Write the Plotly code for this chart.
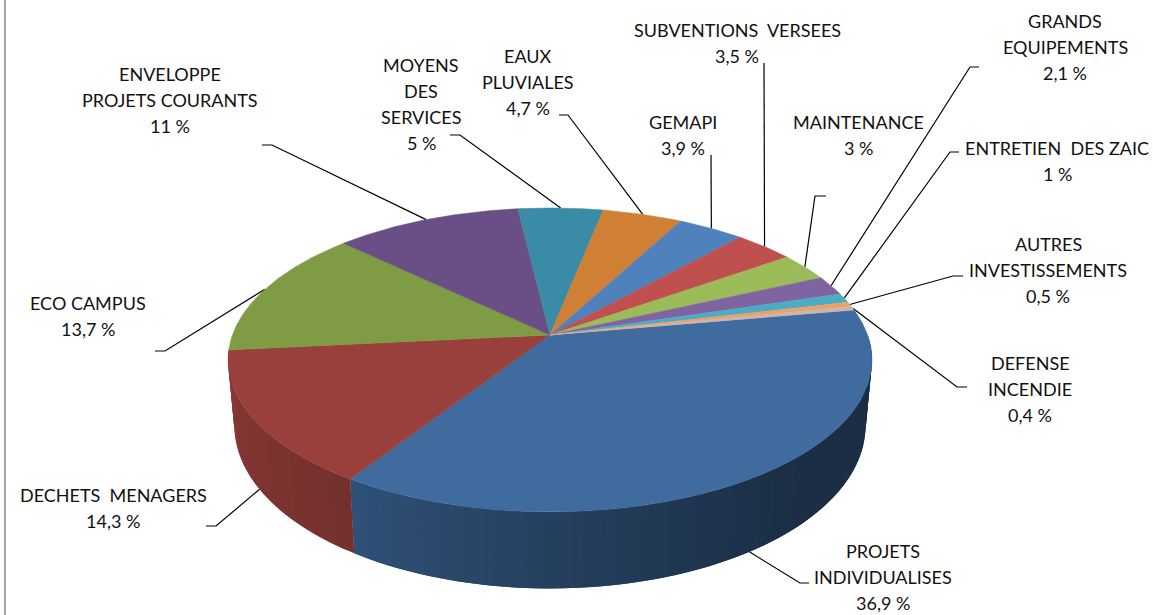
import numpy as np
import plotly.graph_objects as go

# %%
NAMES = [
    "PROJETS<br>INDIVIDUALISES", "DECHETS  MENAGERS", "ECO CAMPUS",
    "ENVELOPPE<br>PROJETS COURANTS", "MOYENS<br>DES<br>SERVICES", "EAUX<br>PLUVIALES",
    "GEMAPI", "SUBVENTIONS  VERSEES", "MAINTENANCE", "GRANDS<br>EQUIPEMENTS",
    "ENTRETIEN  DES ZAIC", "AUTRES<br>INVESTISSEMENTS", "DEFENSE<br>INCENDIE",
]
VALUES = [36.9, 14.3, 13.7, 11, 5, 4.7, 3.9, 3.5, 3, 2.1, 1, 0.5, 0.4]

COLORS = [
    "#3F6B9E", "#9A403C", "#7F9C45", "#694F85", "#3A8BA5", "#D08034", "#4F81BD",
    "#C0504D", "#9BBB59", "#8064A2", "#4BACC6", "#F0A060", "#C9B4B0",
]

# label centre x, y of the first line
LABEL_POS = [
    (883, 551), (113, 495), (88, 303), (170, 74), (421, 65), (528, 56), (683, 122),
    (737, 30), (858, 122), (1065, 21), (1057, 148), (1048, 244), (1030, 363),
]
# label side of each leader line, the pie end comes from the slice angle
LEADERS = [
    [(809, 583), (800, 583)], [(206, 526), (216, 526)], [(155, 351), (165, 351)],
    [(262, 145), (272, 145)], [(450, 135), (460, 135)], [(559, 115), (568, 115)],
    [(711, 155)], [(764, 63)], [(826, 196), (815, 196)], [(979, 67), (970, 67)],
    [(959, 152), (950, 152)], [(963, 276), (953, 276)], [(967, 387), (957, 387)],
]
ON_WALL = [True, True] + [False] * 11

# %%
# perspective of the disc, in page pixels
CX, CY = 550, 335
RX, RY = 317.6, 147.9
K = 0.164
DEPTH = 64
BOTTOM_SCALE = 0.98
START = 10
LINE_STEP = 26


def rim(deg, bottom=False):
    a = np.radians(deg)
    X, Y = np.cos(a), np.sin(a)
    d = 1 + K * Y
    if bottom:
        return CX + RX * BOTTOM_SCALE * X / d, CY + (DEPTH - RY * Y) / d
    return CX + RX * X / d, CY - RY * Y / d


def darker(hex_col, f):
    rgb = [int(hex_col[i:i + 2], 16) for i in (1, 3, 5)]
    return "rgb(%d,%d,%d)" % tuple(int(c * f) for c in rgb)


def wall_factor(deg):
    return np.interp(deg, [-185, -123, -90, -50, 10], [0.93, 0.76, 0.6, 0.44, 0.42])


edges = START - np.concatenate([[0], np.cumsum(VALUES)]) / sum(VALUES) * 360
mids = (edges[:-1] + edges[1:]) / 2

fig = go.Figure()


def poly(xs, ys, col, width=0):
    fig.add_trace(go.Scatter(x=xs, y=ys, mode="lines", fill="toself", fillcolor=col,
                             line=dict(color=col, width=width), hoverinfo="skip"))


# leaders go under the pie
for i, pts in enumerate(LEADERS):
    ax, ay = rim(mids[i], ON_WALL[i])
    xs = [p[0] for p in pts] + [ax]
    ys = [p[1] for p in pts] + [ay]
    fig.add_trace(go.Scatter(x=xs, y=ys, mode="lines", line=dict(color="#000000", width=1.2),
                             hoverinfo="skip"))

# walls: each band runs over into the next one so no seams show
WALL_FROM, WALL_TO = 0, -180
for i in range(2):
    a0, a1 = min(edges[i], WALL_FROM), max(edges[i + 1], WALL_TO)
    n = max(int((a0 - a1) / 1.5), 1)
    steps = np.linspace(a0, a1, n + 1)
    for k in range(n):
        s0, s1 = steps[k], steps[min(k + 2, n)]
        arc = np.linspace(s0, s1, 5)
        xt, yt = rim(arc)
        xb, yb = rim(arc[::-1], True)
        poly([*xt, *xb, xt[0]], [*yt, *yb, yt[0]],
             darker(COLORS[i], wall_factor((steps[k] + steps[k + 1]) / 2)))

# top face
for i in range(len(VALUES)):
    steps = np.linspace(edges[i], edges[i + 1], max(int((edges[i] - edges[i + 1]) / 0.5), 2) + 1)
    xs, ys = rim(steps)
    poly([CX, *xs, CX], [CY, *ys, CY], COLORS[i], 0.5)

# labels, one annotation per line to get the wide line spacing
for i, name in enumerate(NAMES):
    value = f"{VALUES[i]:g}".replace(".", ",") + " %"
    lx, ly = LABEL_POS[i]
    for j, line in enumerate(name.split("<br>") + [value]):
        fig.add_annotation(x=lx, y=ly + j * LINE_STEP, xref="x", yref="y", text=line,
                           showarrow=False, xanchor="center", yanchor="middle",
                           font=dict(family="Lato", size=18, color="#111111"))

# grey frame on the left
fig.add_shape(type="line", x0=5, x1=5, y0=0, y1=615, xref="x", yref="y",
              line=dict(color="#A6A6A6", width=2))

fig.update_layout(
    width=1153, height=615, showlegend=False,
    margin=dict(l=0, r=0, t=0, b=0),
    paper_bgcolor="#FFFFFF", plot_bgcolor="#FFFFFF",
    xaxis=dict(range=[0, 1153], visible=False, fixedrange=True),
    yaxis=dict(range=[615, 0], visible=False, fixedrange=True),
)

# the page's default body margin would push the chart 8 px off
fig.write_html("out.html", config={"displayModeBar": False},
               post_script="document.body.style.margin='0';document.body.style.overflow='hidden';")
